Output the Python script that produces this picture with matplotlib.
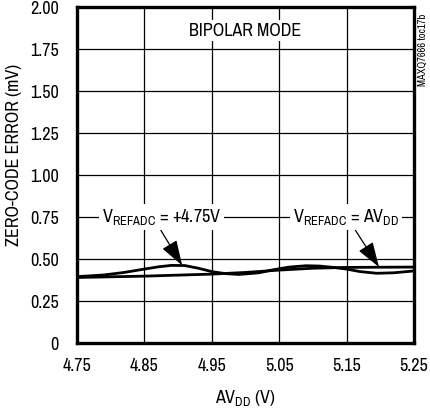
import matplotlib
matplotlib.use("Agg")
import matplotlib.pyplot as plt
from matplotlib import font_manager

names = {f.name for f in font_manager.fontManager.ttflist}
fam = 'Archivo Narrow' if 'Archivo Narrow' in names else 'Liberation Sans'
plt.rcParams['font.family'] = [fam, 'DejaVu Sans']
plt.rcParams['mathtext.fontset'] = 'custom'
plt.rcParams['mathtext.rm'] = fam
plt.rcParams['mathtext.it'] = fam
plt.rcParams['mathtext.bf'] = fam

# data
avdd_ext = [4.75, 4.79, 4.82, 4.85, 4.87, 4.89, 4.91, 4.93, 4.95, 4.97, 4.99, 5.02,
            5.04, 5.065, 5.09, 5.11, 5.13, 5.15, 5.17, 5.195, 5.22, 5.25]
err_ext = [0.395, 0.405, 0.42, 0.44, 0.453, 0.462, 0.461, 0.445, 0.425, 0.413, 0.408, 0.418,
           0.435, 0.452, 0.46, 0.458, 0.45, 0.44, 0.425, 0.415, 0.418, 0.429]
avdd_int = [4.75, 4.85, 4.95, 5.00, 5.05, 5.10, 5.15, 5.25]
err_int = [0.39, 0.398, 0.41, 0.42, 0.434, 0.445, 0.45, 0.452]
xticks = [4.75, 4.85, 4.95, 5.05, 5.15, 5.25]
yticks = [0, 0.25, 0.50, 0.75, 1.00, 1.25, 1.50, 1.75, 2.00]
yticklabels = ['0', '0.25', '0.50', '0.75', '1.00', '1.25', '1.50', '1.75', '2.00']

FS = 13
fig = plt.figure(figsize=(4.30, 4.09), dpi=100)
ax = fig.add_axes([77/430, 66/409, 337/430, 336/409])
ax.set_xlim(4.75, 5.25)
ax.set_ylim(0, 2.0)
ax.set_xticks(xticks)
ax.set_xticklabels([f"{t:.2f}" for t in xticks])
ax.set_yticks(yticks)
ax.set_yticklabels(yticklabels)
ax.tick_params(length=0, labelsize=FS)
ax.tick_params(axis='x', pad=11)
ax.tick_params(axis='y', pad=13)
ax.grid(True, color='black', lw=0.9)
for s in ax.spines.values():
    s.set_linewidth(2.4)

ax.plot(avdd_ext, err_ext, color='black', lw=2.0, solid_capstyle='butt', solid_joinstyle='round')
ax.plot(avdd_int, err_int, color='black', lw=2.0, solid_capstyle='butt', solid_joinstyle='round')

ax.text(5.0, 1.86, 'BIPOLAR MODE', ha='center', va='center', fontsize=FS,
        bbox=dict(facecolor='white', edgecolor='none', pad=1.5))

arrow = dict(arrowstyle='-|>,head_length=1.2,head_width=0.4', color='black', lw=0.9,
             shrinkA=0, shrinkB=0)
ax.annotate(r'V$_{\mathregular{REFADC}}$ = +4.75V', xy=(4.906, 0.462), xytext=(4.875, 0.75),
            ha='center', va='center', fontsize=FS,
            bbox=dict(facecolor='white', edgecolor='none', pad=2),
            arrowprops=dict(arrow, relpos=(0.48, 0.0)))
ax.annotate(r'V$_{\mathregular{REFADC}}$ = AV$_{\mathregular{DD}}$', xy=(5.198, 0.452), xytext=(5.149, 0.75),
            ha='center', va='center', fontsize=FS,
            bbox=dict(facecolor='white', edgecolor='none', pad=2),
            arrowprops=dict(arrow, relpos=(0.57, 0.0)))

ax.set_xlabel(r'AV$_{\mathregular{DD}}$ (V)', fontsize=FS, labelpad=10)
fig.text(14/430, 1 - 155/409, 'ZERO-CODE ERROR (mV)', rotation=90, ha='center', va='center',
         fontsize=FS)
fig.text(423/430, 1 - 50/409, 'MAXQ7666 toc17b', rotation=90, ha='center', va='center',
         fontsize=7.5)

fig.savefig('out.png', dpi=100)
